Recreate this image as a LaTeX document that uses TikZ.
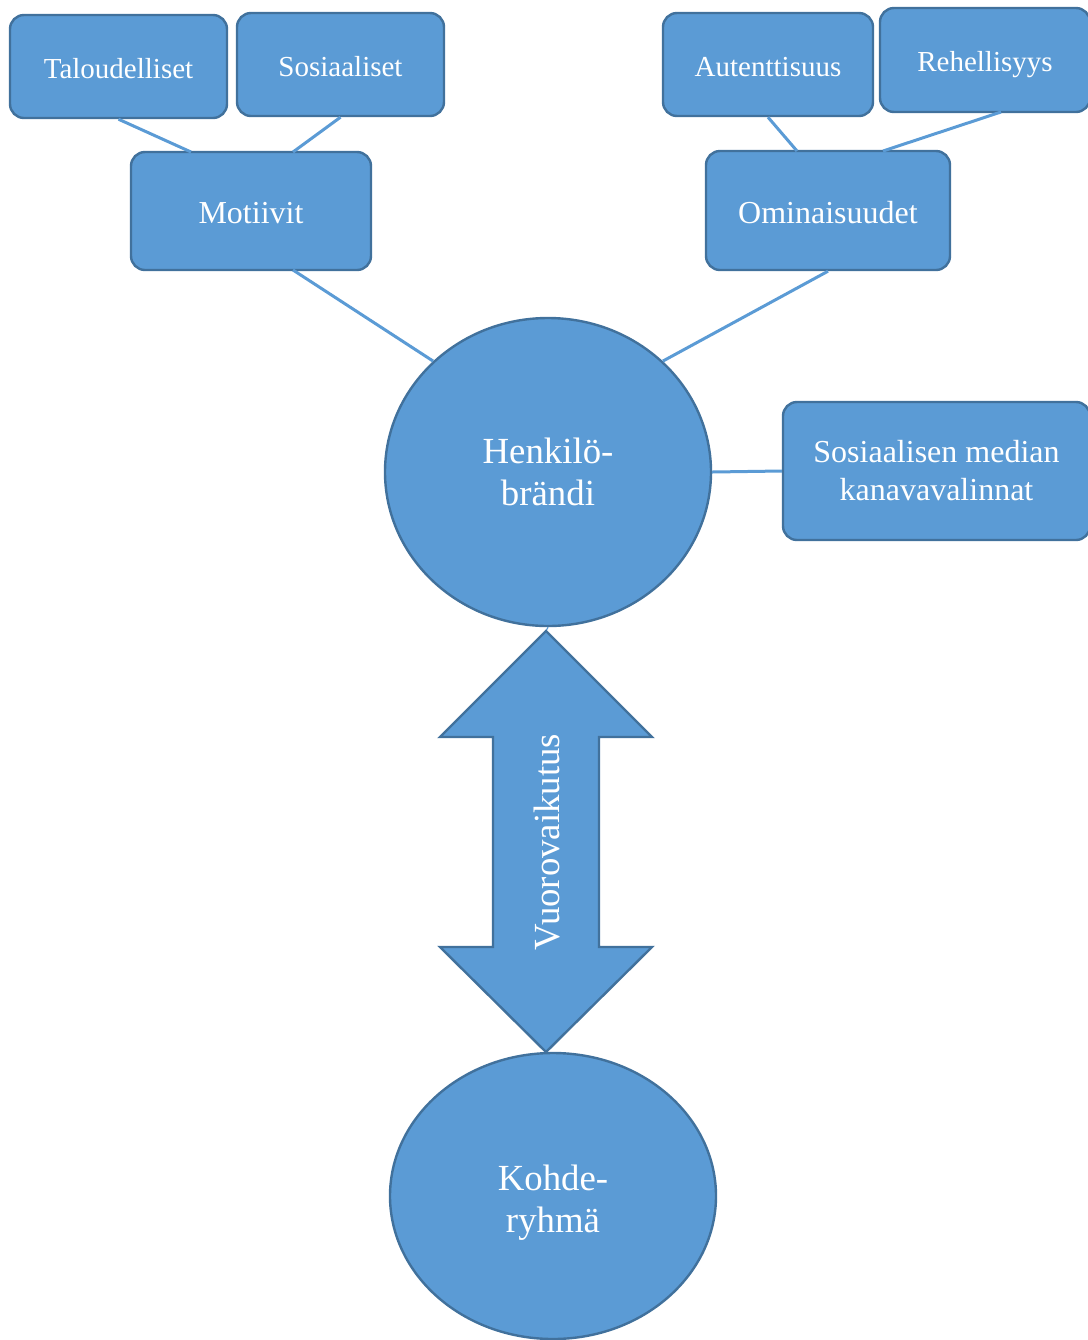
\documentclass[tikz,border=0pt]{standalone}
\usepackage{fontspec}
\setmainfont{Liberation Serif}
\definecolor{fillblue}{HTML}{5B9BD5}
\definecolor{edgeblue}{HTML}{41719C}
\tikzset{
    box/.style={draw=edgeblue, fill=fillblue, line width=1.2pt, rounded corners=7pt,
        text=white, align=center, inner sep=0pt},
    oval/.style={ellipse, draw=edgeblue, fill=fillblue, line width=1.2pt,
        text=white, align=center, inner sep=0pt},
    link/.style={draw=fillblue, line width=1.5pt},
    small/.style={font=\fontsize{14.5}{17}\selectfont, text height=14.8pt, text depth=3pt},
    medium/.style={font=\fontsize{16}{19}\selectfont, text height=16.2pt, text depth=3.3pt},
    large/.style={font=\fontsize{18.4}{21}\selectfont}
    }
\usetikzlibrary{shapes.geometric}

\begin{document}
\begin{tikzpicture}[x=0.5pt, y=-0.5pt]
                \useasboundingbox (0,0) rectangle (1088,1340);
                \clip (0,0) rectangle (1088,1340);
                % The boxes
                \node (talous) [box, small, minimum width=108.5pt, minimum height=51.5pt] at (118.5,66.5) {Taloudelliset};
                \node (sosiaal) [box, small, minimum width=103.5pt, minimum height=51.5pt] at (340.5,64.5) {Sosiaaliset};
                \node (motiivit) [box, medium, minimum width=120pt, minimum height=59pt] at (251,211) {Motiivit};
                \node (autent) [box, small, minimum width=105pt, minimum height=51.5pt] at (768,64.5) {Autenttisuus};
                \node (rehell) [box, small, minimum width=105pt, minimum height=52pt] at (985,60) {Rehellisyys};
                \node (omin) [box, medium, minimum width=122pt, minimum height=59.5pt] at (828,210.5) {Ominaisuudet};
                \node (some) [box, font=\fontsize{16}{19}\selectfont, minimum width=153.5pt, minimum height=69pt] at (936.5,471) {Sosiaalisen median\\kanavavalinnat};
                % The ovals
                \node (brandi) [oval, large, minimum width=163pt, minimum height=154pt] at (548,472) {Henkilö-\\brändi};
                \node (kohde) [oval, large, text height=36.6pt, text depth=0pt, minimum width=163pt, minimum height=143pt] at (553,1196) {Kohde-\\ryhmä};
                % The links
                \draw[link] (talous.south) -- (191,152);
                \draw[link] (sosiaal.south) -- (293,152);
                \draw[link] (293,270) -- (brandi.136);
                \draw[link] (autent.south) -- (797,151);
                \draw[link] (1001,112) -- (883,151);
                \draw[link] (omin.south) -- (brandi.44);
                \draw[link] (brandi.east) -- (some.west);
                % The arrow
                \coordinate (tip) at (546,631);
                \draw[link, line width=0.6pt] (brandi.south) -- (tip);
                \draw[draw=edgeblue, fill=fillblue, line width=1.2pt, line join=miter]
                    (tip) -- (652,737) -- (599,737) -- (599,947) -- (652,947) -- (546,1052)
                    -- (440,947) -- (493,947) -- (493,737) -- (440,737) -- cycle;
                \node (vuoro) [large, text=white, rotate=90] at (547,842) {Vuorovaikutus};
            \end{tikzpicture}
\end{document}
